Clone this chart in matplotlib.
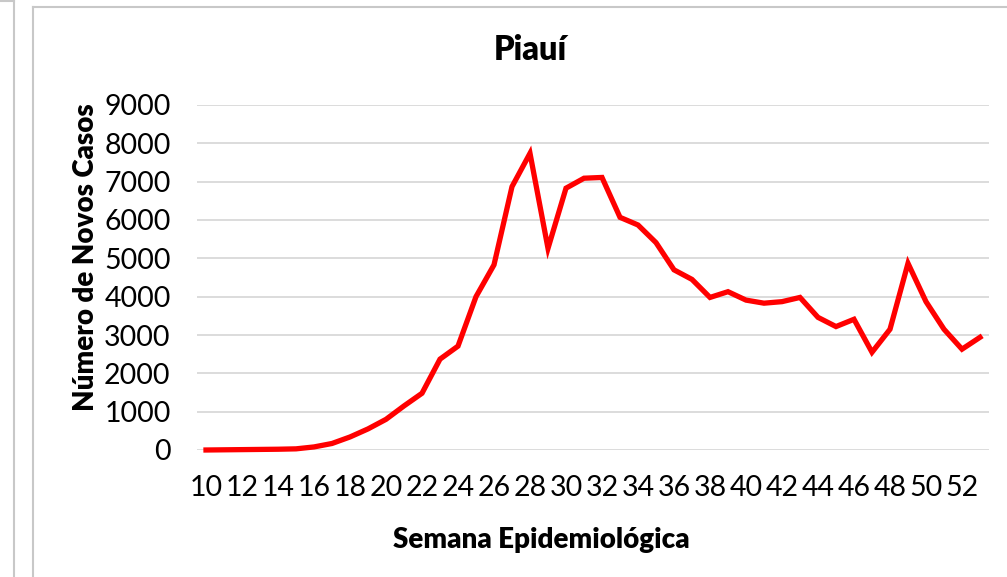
import matplotlib
matplotlib.use("Agg")
import matplotlib.pyplot as plt
from matplotlib.lines import Line2D

weeks = list(range(10, 54))
cases = [0, 5, 10, 15, 20, 30, 80, 170, 340, 550, 800, 1150, 1480, 2370, 2710,
         4000, 4830, 6870, 7740, 5260, 6830, 7090, 7110, 6070, 5870, 5410, 4700,
         4450, 3980, 4130, 3910, 3830, 3870, 3980, 3460, 3220, 3410, 2550, 3150,
         4870, 3870, 3150, 2630, 2940]
xticks = list(range(10, 53, 2))
yticks = list(range(0, 9001, 1000))

title = "Piauí"
xlabel = "Semana Epidemiológica"
ylabel = "Número de Novos Casos"

W, H = 1007, 577
fig = plt.figure(figsize=(W / 100, H / 100), dpi=100)
fam = ['Lato', 'DejaVu Sans']

ax = fig.add_axes([197 / W, (H - 450) / H, (989 - 197) / W, (450 - 105) / H])
ax.plot(weeks, cases, color='#ff0000', lw=3.8, solid_joinstyle='miter', clip_on=False, zorder=3)
ax.set_xlim(9.5, 53.5)
ax.set_ylim(0, 9000)
ax.set_xticks(xticks)
ax.set_yticks(yticks)
ax.set_xticklabels([str(v) for v in xticks], family=fam, fontsize=20.5)
ax.set_yticklabels([str(v) for v in yticks], family=fam, fontsize=20.5)
ax.tick_params(axis='both', length=0)
ax.tick_params(axis='y', pad=19)
ax.tick_params(axis='x', pad=18)
for s in ax.spines.values():
    s.set_visible(False)
ax.grid(axis='y', color='#d9d9d9', lw=1.3)
ax.set_axisbelow(True)

fig.text(530 / W, 1 - 50 / H, title, ha='center', va='center', fontsize=23.5,
         fontweight='heavy', family=fam)
fig.text(541 / W, 1 - 540 / H, xlabel, ha='center', va='center', fontsize=20,
         fontweight='heavy', family=fam)
fig.text(86 / W, 1 - 257 / H, ylabel, ha='center', va='center', fontsize=20,
         fontweight='heavy', family=fam, rotation=90)

# chart frames
gc = '#c8c8c8'
fig.add_artist(Line2D([33 / W, 33 / W], [0, 1 - 7 / H], color=gc, lw=1.5))
fig.add_artist(Line2D([33 / W, 1], [1 - 7 / H, 1 - 7 / H], color=gc, lw=1.5))
fig.add_artist(Line2D([14 / W, 14 / W], [0, 1], color=gc, lw=1.5))
fig.add_artist(Line2D([0, 14 / W], [1 - 1 / H, 1 - 1 / H], color=gc, lw=1.5))

fig.savefig("out.png", dpi=100)
